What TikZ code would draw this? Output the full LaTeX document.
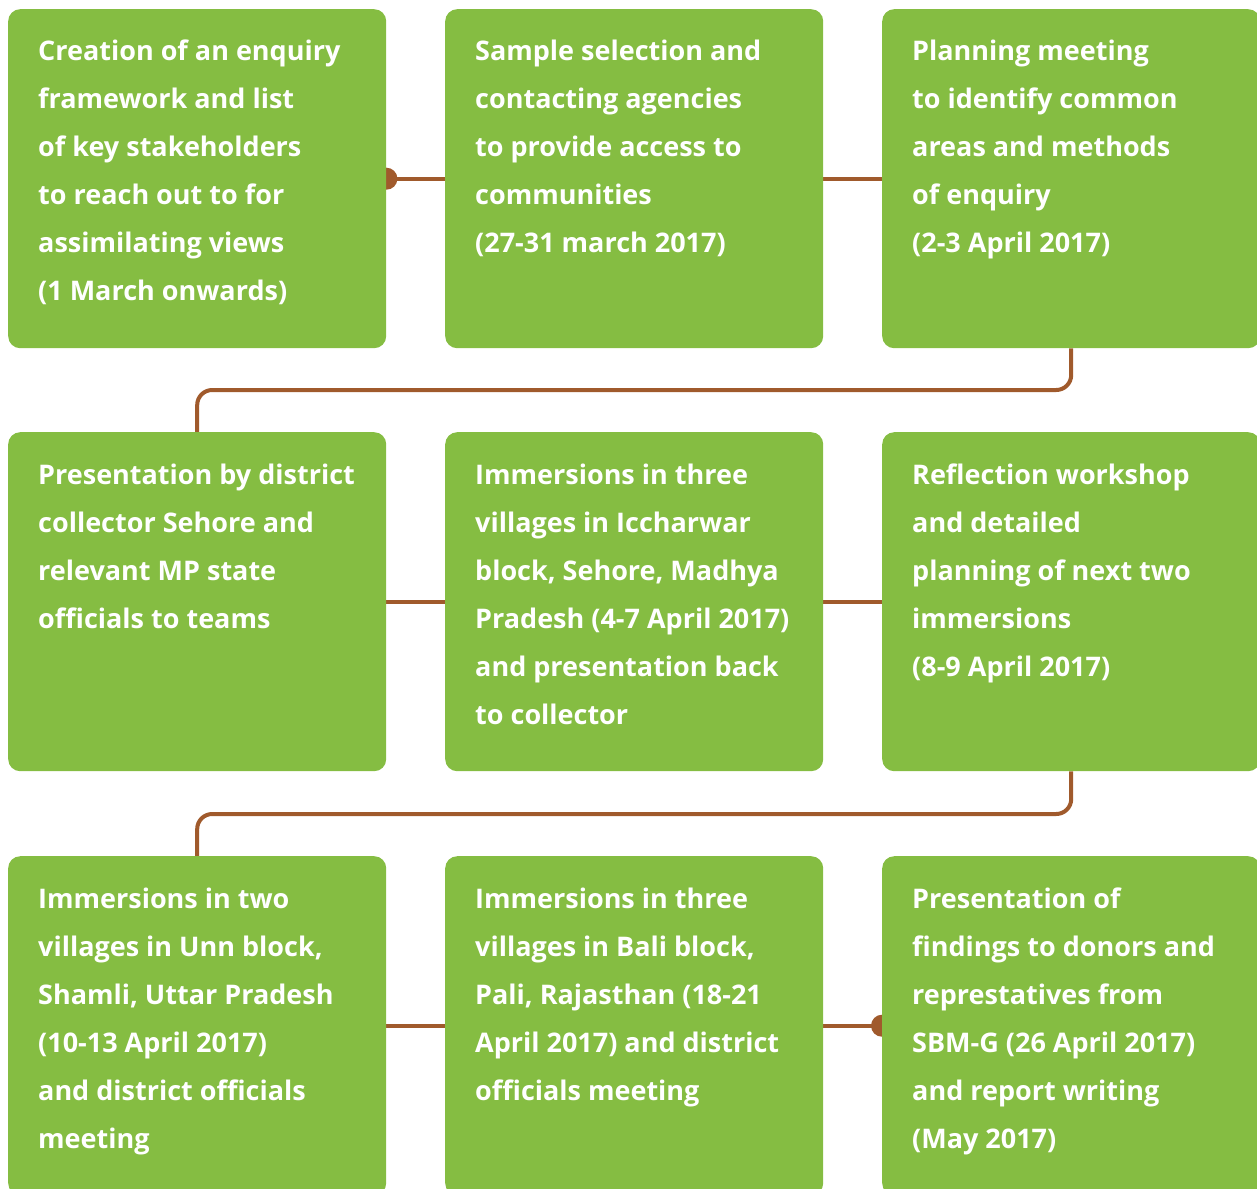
\documentclass[tikz,border=0pt]{standalone}
\usepackage{fontspec}
\setmainfont{Open Sans}
\usetikzlibrary{backgrounds,calc}
\definecolor{stepgreen}{HTML}{85BD42}
\definecolor{linkbrown}{HTML}{A05A2C}
\tikzset{
  stepbox/.style={fill=stepgreen, rounded corners=12pt, minimum width=378pt,
    minimum height=339pt, inner sep=0pt, anchor=north west},
  steptext/.style={anchor=north west, inner sep=0pt, text=white, align=left,
    font=\fontsize{27}{48}\selectfont\bfseries,
    execute at begin node=\rule{0pt}{21pt}},
  link/.style={draw=linkbrown, line width=4pt, rounded corners=15pt},
  linkdot/.style={fill=linkbrown}
}
\begin{document}
\begin{tikzpicture}[x=1pt,y=-1pt]
  \useasboundingbox (0,0) rectangle (1257,1188);
  \clip (0,0) rectangle (1257,1188);

  % first row
  \node[stepbox] (b1) at (8,9) {};
  \node[stepbox] (b2) at (445,9) {};
  \node[stepbox] (b3) at (882,9) {};
  % second row
  \node[stepbox] (b4) at (8,432) {};
  \node[stepbox] (b5) at (445,432) {};
  \node[stepbox] (b6) at (882,432) {};
  % third row
  \node[stepbox] (b7) at (8,856) {};
  \node[stepbox] (b8) at (445,856) {};
  \node[stepbox] (b9) at (882,856) {};

  \node[steptext] (t1) at ($(b1.north west)+(30,31)$) {Creation of an enquiry\\framework and list\\of key stakeholders\\to reach out to for\\assimilating views\\(1 March onwards)};
  \node[steptext] (t2) at ($(b2.north west)+(30,31)$) {Sample selection and\\contacting agencies\\to provide access to\\communities\\(27-31 march 2017)};
  \node[steptext] (t3) at ($(b3.north west)+(30,31)$) {Planning meeting\\to identify common\\areas and methods\\of enquiry\\(2-3 April 2017)};
  \node[steptext] (t4) at ($(b4.north west)+(30,32)$) {Presentation by district\\collector Sehore and\\relevant MP state\\officials to teams};
  \node[steptext] (t5) at ($(b5.north west)+(30,32)$) {Immersions in three\\villages in Iccharwar\\block, Sehore, Madhya\\Pradesh (4-7 April 2017)\\and presentation back\\to collector};
  \node[steptext] (t6) at ($(b6.north west)+(30,32)$) {Reflection workshop\\and detailed\\planning of next two\\immersions\\(8-9 April 2017)};
  \node[steptext] (t7) at ($(b7.north west)+(30,32)$) {Immersions in two\\villages in Unn block,\\Shamli, Uttar Pradesh\\(10-13 April 2017)\\and district officials\\meeting};
  \node[steptext] (t8) at ($(b8.north west)+(30,32)$) {Immersions in three\\villages in Bali block,\\Pali, Rajasthan (18-21\\April 2017) and district\\officials meeting};
  \node[steptext] (t9) at ($(b9.north west)+(30,32)$) {Presentation of\\findings to donors and\\represtatives from\\SBM-G (26 April 2017)\\and report writing\\(May 2017)};

  \coordinate (r1) at (0,390);
  \coordinate (r2) at (0,814);

  \begin{scope}[on background layer]
    \draw[link] (b1.east) -- (b2.west);
    \draw[link] (b2.east) -- (b3.west);
    \draw[link] (b3.south) -- (b3.south |- r1) -- (b4.north |- r1) -- (b4.north);
    \draw[link] (b4.east) -- (b5.west);
    \draw[link] (b5.east) -- (b6.west);
    \draw[link] (b6.south) -- (b6.south |- r2) -- (b7.north |- r2) -- (b7.north);
    \draw[link] (b7.east) -- (b8.west);
    \draw[link] (b8.east) -- (b9.west);
    \fill[linkdot] (b1.east) circle (11);
    \fill[linkdot] (b9.west) circle (11);
  \end{scope}
\end{tikzpicture}
\end{document}
